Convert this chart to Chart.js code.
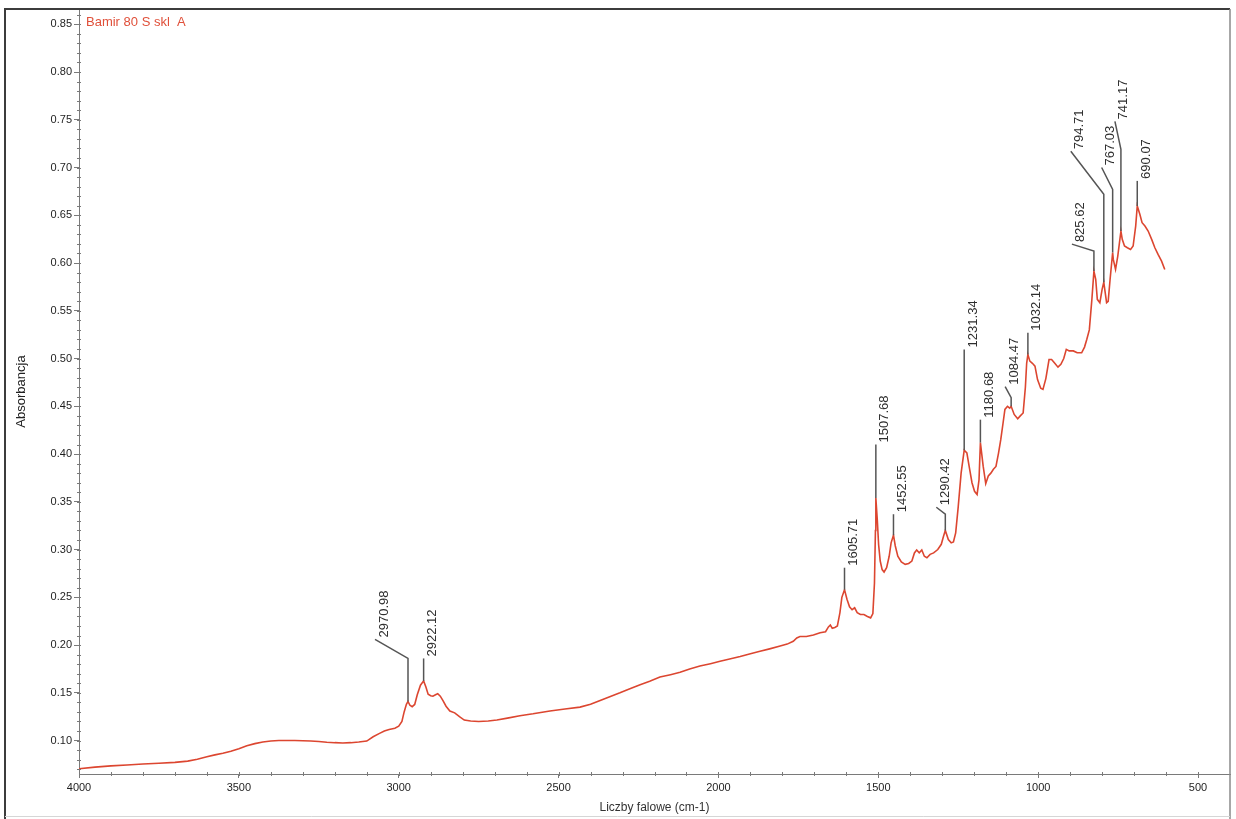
<!DOCTYPE html>
<html>
<head>
<meta charset="utf-8">
<title>Bamir 80 S skl A</title>
<script src="https://cdn.jsdelivr.net/npm/chart.js@4.4.1/dist/chart.umd.min.js"></script>
<style>
  html, body { margin: 0; padding: 0; background: #fff; }
  #wrap { width: 1236px; height: 819px; }
</style>
</head>
<body>
<div id="wrap"><canvas id="c" width="1236" height="819"></canvas></div>
<script>
// FTIR absorbance spectrum
const seriesName = 'Bamir 80 S skl  A';

const wavenumbers = [
  4000, 3950, 3900, 3850, 3800, 3750, 3700, 3660, 3630, 3600, 3575, 3550, 3525, 3500, 3475, 3450, 3425, 3400,
  3375, 3350, 3325, 3300, 3275, 3250, 3225, 3200, 3175, 3150, 3125, 3100, 3080, 3060, 3045, 3030, 3012, 3000,
  2990, 2983, 2976, 2970.98, 2965, 2958, 2950, 2942, 2932, 2922.12, 2915, 2908, 2900, 2893, 2885, 2878, 2870,
  2862, 2852, 2840, 2825, 2810, 2795, 2775, 2750, 2720, 2693, 2660, 2621, 2580, 2527, 2480, 2433, 2400, 2370,
  2340, 2308, 2275, 2245, 2215, 2183, 2150, 2120, 2090, 2058, 2025, 1995, 1965, 1932, 1900, 1870, 1840, 1807,
  1785, 1766, 1755, 1745, 1725, 1703, 1682, 1665, 1656, 1650, 1644, 1636, 1628, 1620, 1614, 1605.71, 1598,
  1590, 1582, 1574, 1566, 1556, 1545, 1534, 1524, 1517, 1512, 1509, 1507.68, 1503, 1499, 1494, 1488, 1482,
  1474, 1466, 1460, 1452.55, 1447, 1439, 1428, 1416, 1405, 1395, 1387, 1380, 1372, 1364, 1356, 1348, 1338,
  1327, 1314, 1303, 1296, 1290.42, 1281, 1272, 1265, 1258, 1250, 1241, 1231.34, 1223, 1216, 1207, 1199, 1191,
  1185, 1180.68, 1172, 1164, 1156, 1148, 1140, 1132, 1124, 1117, 1110, 1104, 1096, 1089, 1084.47, 1075, 1064,
  1056, 1047, 1040, 1036, 1032.14, 1026, 1018, 1010, 1002, 992, 985, 976, 966, 958, 948, 938, 929, 920, 912,
  903, 890, 878, 864, 855, 848, 840, 832, 825.62, 820, 815, 807, 800, 794.71, 791, 786, 781, 775, 767.03, 765,
  758, 751, 741.17, 737, 730, 721, 711, 703, 695, 690.07, 682, 675, 666, 656, 645, 635, 625, 614, 604
];

const absorbance = [
  0.0705, 0.0722, 0.0735, 0.0745, 0.0755, 0.0762, 0.0772, 0.0785, 0.0805, 0.0830, 0.0850, 0.0868, 0.0888, 0.0915, 0.0945, 0.0968, 0.0985, 0.0995,
  0.1000, 0.1000, 0.1000, 0.0998, 0.0995, 0.0990, 0.0983, 0.0978, 0.0975, 0.0978, 0.0985, 0.0995, 0.1040, 0.1075, 0.1100, 0.1115, 0.1130, 0.1150,
  0.1200, 0.1300, 0.1380, 0.1410, 0.1370, 0.1355, 0.1378, 0.1480, 0.1580, 0.1625, 0.1560, 0.1485, 0.1470, 0.1465, 0.1480, 0.1490, 0.1465,
  0.1420, 0.1360, 0.1310, 0.1290, 0.1250, 0.1215, 0.1205, 0.1200, 0.1205, 0.1215, 0.1235, 0.1260, 0.1280, 0.1310, 0.1330, 0.1350, 0.1380, 0.1420,
  0.1460, 0.1500, 0.1545, 0.1585, 0.1620, 0.1665, 0.1690, 0.1715, 0.1750, 0.1780, 0.1805, 0.1830, 0.1855, 0.1880, 0.1910, 0.1935, 0.1960, 0.1990,
  0.2010, 0.2040, 0.2075, 0.2090, 0.2090, 0.2105, 0.2130, 0.2140, 0.2190, 0.2210, 0.2175, 0.2185, 0.2200, 0.2340, 0.2500, 0.2580, 0.2480,
  0.2400, 0.2370, 0.2390, 0.2340, 0.2320, 0.2320, 0.2300, 0.2285, 0.2330, 0.2650, 0.3200, 0.3540, 0.3300, 0.3050, 0.2880, 0.2790, 0.2765,
  0.2810, 0.2930, 0.3070, 0.3150, 0.3040, 0.2930, 0.2870, 0.2845, 0.2855, 0.2880, 0.2965, 0.2995, 0.2965, 0.2995, 0.2930, 0.2915, 0.2950,
  0.2965, 0.3000, 0.3055, 0.3140, 0.3200, 0.3105, 0.3070, 0.3080, 0.3175, 0.3450, 0.3800, 0.4040, 0.4013, 0.3873, 0.3700, 0.3610, 0.3577,
  0.3730, 0.4120, 0.3873, 0.3690, 0.3770, 0.3800, 0.3840, 0.3870, 0.4010, 0.4150, 0.4320, 0.4467, 0.4500, 0.4480, 0.4500, 0.4415, 0.4370,
  0.4400, 0.4430, 0.4700, 0.4950, 0.5043, 0.4973, 0.4950, 0.4920, 0.4780, 0.4690, 0.4677, 0.4790, 0.4990, 0.4990, 0.4950, 0.4910, 0.4940, 0.5000, 0.5096,
  0.5080, 0.5080, 0.5060, 0.5060, 0.5120, 0.5200, 0.5300, 0.5620, 0.5916, 0.5830, 0.5620, 0.5585, 0.5724, 0.5800, 0.5707, 0.5585, 0.5600, 0.5830, 0.6110, 0.6038,
  0.5933, 0.6073, 0.6335, 0.6248, 0.6178, 0.6160, 0.6143, 0.6178, 0.6387, 0.6597, 0.6510, 0.6422, 0.6387, 0.6335, 0.6248, 0.6160, 0.6090, 0.6020, 0.5933
];

// labelled band maxima (cm-1)
const peakPositions = [2970.98, 2922.12, 1605.71, 1507.68, 1452.55, 1290.42, 1231.34, 1180.68,
                       1084.47, 1032.14, 825.62, 794.71, 767.03, 741.17, 690.07];

const xTicks = [4000, 3500, 3000, 2500, 2000, 1500, 1000, 500];
const yTicks = [0.10, 0.15, 0.20, 0.25, 0.30, 0.35, 0.40, 0.45, 0.50, 0.55, 0.60, 0.65, 0.70, 0.75, 0.80, 0.85];

// leader line layout: stem top (absorbance units) and elbow offset in px
const leaderTops = [0.186, 0.186, 0.281, 0.410, 0.337, 0.337, 0.5096, 0.436, 0.459, 0.527, 0.6125, 0.672, 0.677, 0.719, 0.686];
const leaderElbows = [[-33, -19], [0, 0], [0, 0], [0, 0], [0, 0], [-9, -7], [0, 0], [0, 0],
                      [-6, -11], [0, 0], [-22, -7], [-33, -43], [-11, -22], [-6, -28], [0, 0]];

const FONT = "'Liberation Sans', Arial, sans-serif";

function valueAt(w) {
  for (let i = 0; i < wavenumbers.length - 1; i++) {
    const a = wavenumbers[i], b = wavenumbers[i + 1];
    if ((w <= a && w >= b)) {
      const t = (a - w) / (a - b);
      return absorbance[i] + t * (absorbance[i + 1] - absorbance[i]);
    }
  }
  return absorbance[absorbance.length - 1];
}

const framePlugin = {
  id: 'frame',
  beforeDraw(chart) {
    const { ctx, width, height } = chart;
    ctx.save();
    ctx.fillStyle = '#ffffff';
    ctx.fillRect(0, 0, width, height);
    ctx.restore();
  },
  afterDraw(chart) {
    const { ctx, chartArea: a, height } = chart;
    ctx.save();
    ctx.strokeStyle = '#3c3c3c';
    ctx.lineWidth = 2;
    ctx.beginPath();
    ctx.moveTo(5, a.top - 1); ctx.lineTo(5, height);
    ctx.moveTo(4, a.top); ctx.lineTo(a.right, a.top);
    ctx.stroke();
    ctx.strokeStyle = '#8a8a8a';
    ctx.lineWidth = 1.5;
    ctx.beginPath();
    ctx.moveTo(a.right, a.top); ctx.lineTo(a.right, height);
    ctx.stroke();
    ctx.strokeStyle = '#d6d6d6';
    ctx.lineWidth = 1;
    ctx.beginPath();
    ctx.moveTo(5, 816.5); ctx.lineTo(a.right, 816.5);
    ctx.stroke();
    ctx.restore();
  }
};

const minorTickPlugin = {
  id: 'minorTicks',
  afterDraw(chart) {
    const { ctx, chartArea: a, scales: { x, y } } = chart;
    ctx.save();
    ctx.strokeStyle = '#7a7a7a';
    ctx.lineWidth = 1;
    ctx.beginPath();
    for (let w = 4000; w >= 500; w -= 100) {
      const px = Math.round(x.getPixelForValue(w)) + 0.5;
      ctx.moveTo(px, a.bottom - 2); ctx.lineTo(px, a.bottom + 2);
    }
    for (let k = 7; k <= 86; k++) {
      const py = Math.round(y.getPixelForValue(k / 100)) + 0.5;
      ctx.moveTo(a.left - 2, py); ctx.lineTo(a.left + 2, py);
    }
    ctx.stroke();
    ctx.restore();
  }
};

const peakLabelPlugin = {
  id: 'peakLabels',
  afterDatasetsDraw(chart) {
    const { ctx, scales: { x, y } } = chart;
    ctx.save();
    ctx.strokeStyle = '#555555';
    ctx.lineWidth = 1.5;
    ctx.fillStyle = '#2e2e2e';
    ctx.font = '13px ' + FONT;
    peakPositions.forEach((w, i) => {
      const px = x.getPixelForValue(w);
      const py = y.getPixelForValue(valueAt(w));
      const topY = y.getPixelForValue(leaderTops[i]);
      const [dx, dy] = leaderElbows[i];
      ctx.beginPath();
      ctx.moveTo(px, py);
      ctx.lineTo(px, topY);
      ctx.lineTo(px + dx, topY + dy);
      ctx.stroke();
      ctx.save();
      ctx.translate(px + dx + 9, topY + dy - 2);
      ctx.rotate(-Math.PI / 2);
      ctx.textAlign = 'left';
      ctx.textBaseline = 'middle';
      ctx.fillText(w.toFixed(2), 0, 0);
      ctx.restore();
    });
    // series name in the top-left corner of the plot
    const a = chart.chartArea;
    ctx.fillStyle = '#e0503a';
    ctx.font = '13px ' + FONT;
    ctx.textAlign = 'left';
    ctx.textBaseline = 'middle';
    ctx.fillText(chart.data.datasets[0].label, a.left + 7, a.top + 13);
    ctx.restore();
  }
};

new Chart(document.getElementById('c'), {
  type: 'line',
  data: {
    datasets: [{
      label: seriesName,
      data: wavenumbers.map((w, i) => ({ x: w, y: absorbance[i] })),
      borderColor: '#dc4630',
      borderWidth: 1.6,
      pointRadius: 0,
      tension: 0,
      fill: false
    }]
  },
  options: {
    responsive: false,
    animation: false,
    devicePixelRatio: 1,
    layout: { padding: { left: 0, top: 9, right: 6, bottom: 0 } },
    plugins: { legend: { display: false }, tooltip: { enabled: false } },
    scales: {
      x: {
        type: 'linear',
        reverse: true,
        min: 400,
        max: 4000,
        afterBuildTicks: s => { s.ticks = xTicks.map(v => ({ value: v })); },
        afterFit: s => { s.height = 45; },
        border: { display: true, color: '#7a7a7a', width: 1 },
        grid: { drawOnChartArea: false, tickLength: 4, tickColor: '#7a7a7a' },
        ticks: {
          autoSkip: false, maxRotation: 0, padding: 3, color: '#1e1e1e',
          font: { family: FONT, size: 11 },
          callback: v => String(v)
        },
        title: {
          display: true, text: 'Liczby falowe (cm-1)', color: '#333333',
          font: { family: FONT, size: 12 }, padding: { top: 0, bottom: 4 }
        }
      },
      y: {
        type: 'linear',
        min: 0.065,
        max: 0.866,
        afterBuildTicks: s => { s.ticks = yTicks.map(v => ({ value: v })); },
        afterFit: s => { s.width = 79; },
        border: { display: true, color: '#7a7a7a', width: 1 },
        grid: { drawOnChartArea: false, tickLength: 5, tickColor: '#7a7a7a' },
        ticks: {
          padding: 2, color: '#1e1e1e',
          font: { family: FONT, size: 11 },
          callback: v => v.toFixed(2)
        },
        title: {
          display: true, text: 'Absorbancja', color: '#222222',
          font: { family: FONT, size: 13 }, padding: { top: 14, bottom: 0 }
        }
      }
    }
  },
  plugins: [framePlugin, minorTickPlugin, peakLabelPlugin]
});
</script>
</body>
</html>
